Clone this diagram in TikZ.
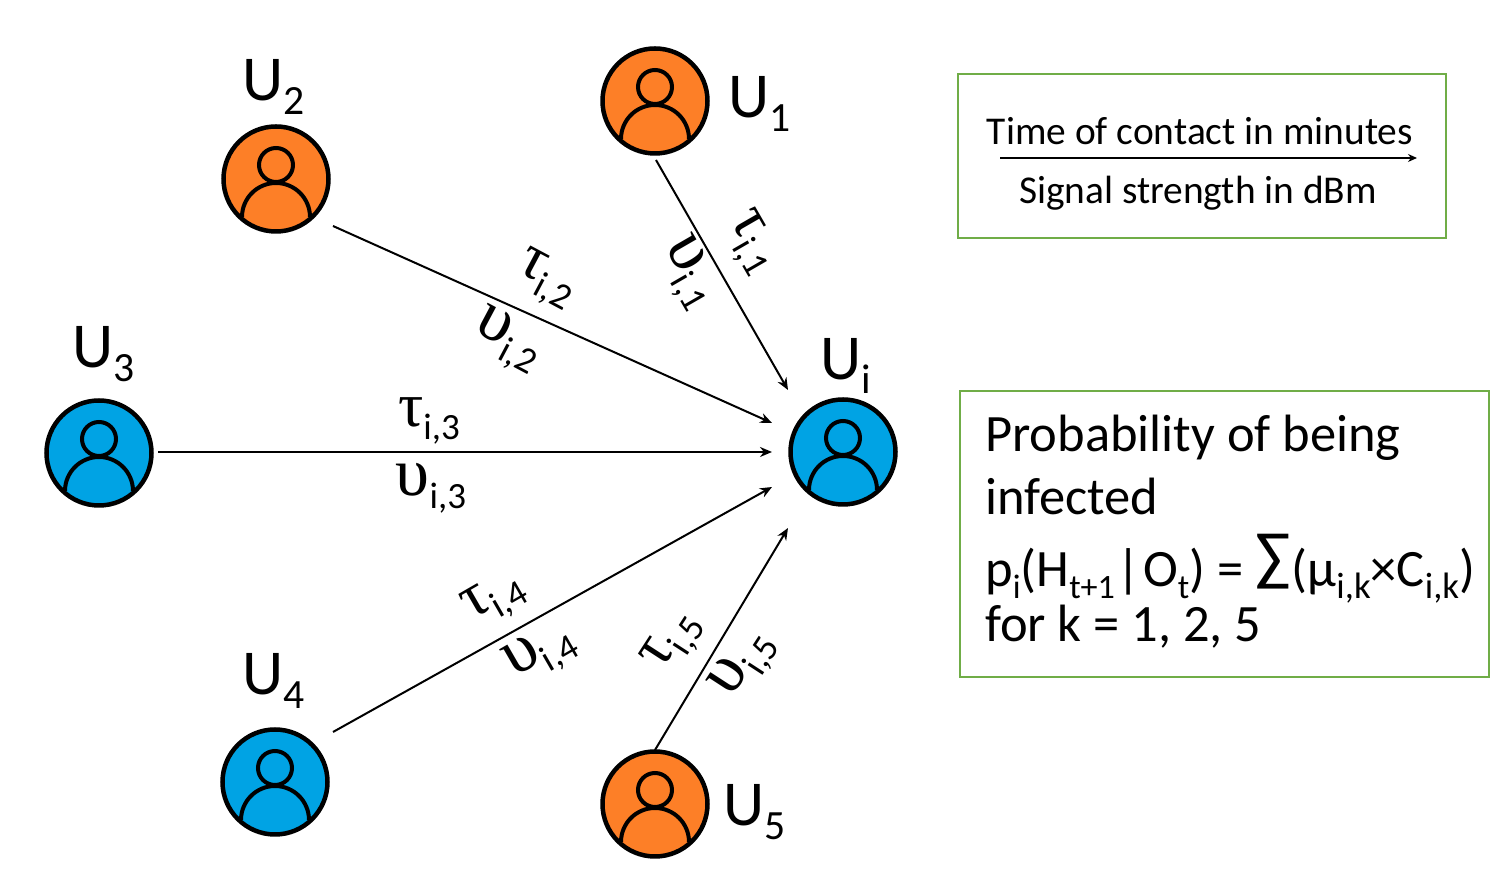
\documentclass[tikz,border=0pt]{standalone}
\usepackage{fontspec}
\usetikzlibrary{arrows.meta}
\setmainfont{Carlito}
\newfontfamily\greekfont{Liberation Serif}
\definecolor{userorange}{HTML}{FD7F27}
\definecolor{userblue}{HTML}{00A3E4}
\definecolor{boxgreen}{HTML}{70AD47}
\newcommand{\low}[1]{\raisebox{-0.22em}{\scalebox{0.65}{#1}}}
\newcommand{\lowb}[1]{\raisebox{-0.22em}{\scalebox{0.7}{#1}}}
\newcommand{\taulab}[1]{\scalebox{1.7}{\greekfont τ}\raisebox{-0.35em}{i,#1}}
\newcommand{\upslab}[1]{\scalebox{1.85}{\greekfont υ}\raisebox{-0.35em}{i,#1}}
\tikzset{
  user/.style={circle,draw,line width=4.5pt,minimum size=105pt,inner sep=0pt},
  person/.pic={
    \draw[line width=4pt](0,14)circle(17);
    \draw[line width=4pt](-34,-38)arc(180:0:34);
  },
  conn/.style={-{Stealth[length=12pt,width=10pt]},line width=2pt},
  ulabel/.style={font=\fontsize{64}{64}\selectfont,inner sep=0pt},
  elabel/.style={font=\fontsize{37}{37}\selectfont,inner sep=0pt},
  infobox/.style={draw=boxgreen,line width=1.5pt,inner sep=0pt},
}
\begin{document}
\begin{tikzpicture}[x=1pt,y=1pt]
\useasboundingbox(0,0)rectangle(1497,880);
% users
\node[user,fill=userorange](u1)at(655,779){};
\node[user,fill=userorange](u2)at(276,701){};
\node[user,fill=userblue](u3)at(99,427){};
\node[user,fill=userblue](u4)at(275,98){};
\node[user,fill=userorange](u5)at(655,76){};
\node[user,fill=userblue](ui)at(843,428){};
\pic at(u1){person};
\pic at(u2){person};
\pic at(u3){person};
\pic at(u4){person};
\pic at(u5){person};
\pic at(ui){person};
% names
\node[ulabel](nu1)at(760,776){U\low{1}};
\node[ulabel](nu2)at(274,793){U\low{2}};
\node[ulabel](nu3)at(104,526){U\low{3}};
\node[ulabel](nu4)at(274,199){U\low{4}};
\node[ulabel](nu5)at(755,68){U\low{5}};
\node[ulabel](nui)at(846,514){U\low{i}};
% free ends of the connectors
\coordinate(out1)at(656,720);
\coordinate(out2)at(333,654);
\coordinate(out3)at(158,428);
\coordinate(out4)at(333,148);
\coordinate(out5)at(655,130);
\coordinate(in1)at(788,490);
\coordinate(in2)at(772,457);
\coordinate(in3)at(772,428);
\coordinate(in4)at(772,393);
\coordinate(in5)at(788,352);
\draw[conn](out1)--(in1);
\draw[conn](out2)--(in2);
\draw[conn](out3)--(in3);
\draw[conn](out4)--(in4);
\draw[conn](out5)--(in5);
% edge labels
\node[elabel,rotate=-60](t1)at(750,637){\taulab{1}};
\node[elabel,rotate=-60](v1)at(688,607){\upslab{1}};
\node[elabel,rotate=-28](t2)at(545,600){\taulab{2}};
\node[elabel,rotate=-28](v2)at(507,539){\upslab{2}};
\node[elabel](t3)at(429,459){\taulab{3}};
\node[elabel](v3)at(431,392){\upslab{3}};
\node[elabel,rotate=30](t4)at(495,280){\taulab{4}};
\node[elabel,rotate=30](v4)at(541,226){\upslab{4}};
\node[elabel,rotate=57](t5)at(674,237){\taulab{5}};
\node[elabel,rotate=57](v5)at(745,215){\upslab{5}};
% legend
\node[infobox,minimum width=488pt,minimum height=164pt](legend)at(1202,724){};
\node[inner sep=0pt,font=\fontsize{39.4}{39.4}\selectfont](ltop)at(1200,749){Time of contact in minutes};
\node[inner sep=0pt,font=\fontsize{39.4}{39.4}\selectfont](lbot)at(1198,687){Signal strength in dBm};
\coordinate(ls)at(1000,722);
\coordinate(le)at(1417,722);
\draw[-{Stealth[length=9pt,width=8pt]},line width=1.5pt](ls)--(le);
% probability
\node[infobox,minimum width=529pt,minimum height=286pt](probbox)at(1224.5,346){};
\node[inner sep=0pt,anchor=north west,align=left,font=\fontsize{52.5}{63}\selectfont](prob)at(985,465){Probability of being\\
infected\\[9pt]
p\low{i}(H\low{t+1}\kern2pt|\kern2pt O\low{t}) = \raisebox{0.15em}{\scalebox{1.25}{∑}}\kern1pt(μ\lowb{i,k}×C\lowb{i,k})\\[-8pt]
for k = 1, 2, 5};
\end{tikzpicture}
\end{document}
